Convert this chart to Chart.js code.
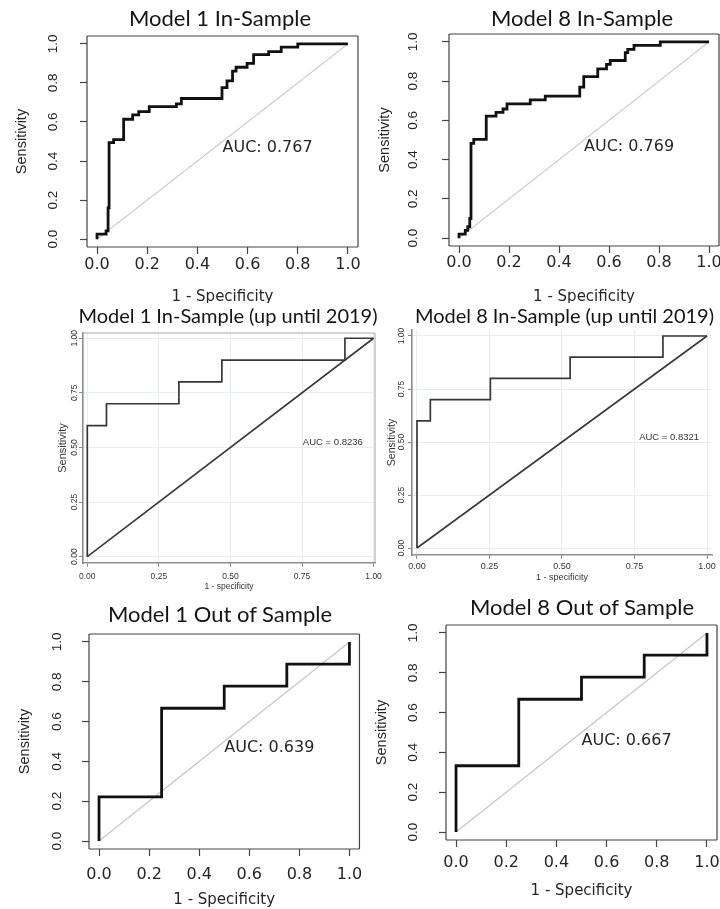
<!DOCTYPE html>
<html>
<head>
<meta charset="utf-8">
<title>ROC curves - Model 1 / Model 8</title>
<script src="https://cdn.jsdelivr.net/npm/chart.js@4.4.1/dist/chart.umd.min.js"></script>
<style>
  html, body { margin: 0; padding: 0; background: #fff; overflow: hidden; }
  #page { position: relative; width: 720px; height: 909px; overflow: hidden; background: #fff; }
  .panel { position: absolute; }
  .panel canvas { display: block; }
  .ttl { position: absolute; width: 500px; text-align: center; white-space: nowrap;
         font-family: Lato, 'Open Sans', sans-serif; color: #151515; line-height: 1; }
</style>
</head>
<body>
<div id="page"></div>
<script>
// === Data ===
const TITLES = [
  "Model 1 In-Sample", "Model 8 In-Sample",
  "Model 1 In-Sample (up until 2019)", "Model 8 In-Sample (up until 2019)",
  "Model 1 Out of Sample", "Model 8 Out of Sample"
];
const AUC_LABELS = ["AUC: 0.767", "AUC: 0.769", "AUC = 0.8236", "AUC = 0.8321", "AUC: 0.639", "AUC: 0.667"];

const R_TICKS = [0, 0.2, 0.4, 0.6, 0.8, 1.0];
const R_TICK_LABELS = ["0.0", "0.2", "0.4", "0.6", "0.8", "1.0"];
const STATA_TICKS = [0, 0.25, 0.5, 0.75, 1.0];
const STATA_TICK_LABELS = ["0.00", "0.25", "0.50", "0.75", "1.00"];

const X_TITLE_R = "1 - Specificity";
const X_TITLE_STATA = "1 - specificity";
const Y_TITLE = "Sensitivity";

// ROC points (1 - specificity, sensitivity); drawn as step-after lines
const M1_IN_FPR = [0, 0.036, 0.044, 0.048, 0.066, 0.106, 0.142, 0.166, 0.208, 0.316, 0.336, 0.498, 0.518, 0.540, 0.554, 0.598, 0.624, 0.684, 0.734, 0.800, 1.000];
const M1_IN_TPR = [0, 0.026, 0.043, 0.160, 0.494, 0.510, 0.614, 0.636, 0.653, 0.679, 0.693, 0.720, 0.776, 0.810, 0.860, 0.880, 0.900, 0.945, 0.960, 0.983, 1.000];

const M8_IN_FPR = [0, 0.025, 0.035, 0.043, 0.048, 0.059, 0.109, 0.148, 0.176, 0.192, 0.285, 0.345, 0.483, 0.499, 0.555, 0.590, 0.605, 0.665, 0.675, 0.700, 0.805, 1.000];
const M8_IN_TPR = [0, 0.020, 0.040, 0.058, 0.100, 0.483, 0.503, 0.622, 0.641, 0.658, 0.684, 0.704, 0.724, 0.769, 0.823, 0.862, 0.885, 0.905, 0.945, 0.962, 0.982, 1.000];

const M1_2019_FPR = [0, 0.067, 0.320, 0.470, 0.900, 1.0];
const M1_2019_TPR = [0, 0.600, 0.700, 0.800, 0.900, 1.0];
const M8_2019_FPR = [0, 0.046, 0.253, 0.528, 0.848, 1.0];
const M8_2019_TPR = [0, 0.600, 0.700, 0.800, 0.900, 1.0];

const M1_OUT_FPR = [0, 0.25, 0.50, 0.75, 1.0, 1.0];
const M1_OUT_TPR = [0, 0.222, 0.667, 0.778, 0.889, 1.0];
const M8_OUT_FPR = [0, 0.25, 0.50, 0.75, 1.0, 1.0];
const M8_OUT_TPR = [0, 0.333, 0.667, 0.778, 0.889, 1.0];

const DIAG_X = [0, 1];
const DIAG_Y = [0, 1];

// === Looks: R (pROC) panels and Stata (roctab) panels ===
const R_LOOK = {
  text: "#262626",
  xFamily: "'DejaVu Sans', Verdana, sans-serif", xTickSize: 16, xTitleSize: 15,
  yFamily: "'Liberation Sans', Arial, sans-serif", yTickSize: 13.5, yTitleSize: 14.5,
  aucSize: 16, aucFamily: "'DejaVu Sans', Verdana, sans-serif",
  tickLen: 7, tickColor: "#444", tickWidth: 1.2,
  grid: false, gridColor: "rgba(0,0,0,0)",
  axisLine: false, axisColor: "#444", axisWidth: 1.2,
  frame: "tlrb", frameColor: "#444", frameWidth: 1.2,
  curve: "#111", curveWidth: 2.8, diag: "#c4c4c4", diagWidth: 1.1
};
const STATA_LOOK = {
  text: "#333",
  xFamily: "'Liberation Sans', Arial, sans-serif", xTickSize: 9, xTitleSize: 9,
  yFamily: "'Liberation Sans', Arial, sans-serif", yTickSize: 8.5, yTitleSize: 10.5,
  aucSize: 9.5, aucFamily: "'Liberation Sans', Arial, sans-serif",
  tickLen: 4, tickColor: "#8c8c8c", tickWidth: 1,
  grid: true, gridColor: "#e6eeee",
  axisLine: true, axisColor: "#8c8c8c", axisWidth: 1.6,
  frame: "", frameColor: "#a8a8a8", frameWidth: 1,
  curve: "#383838", curveWidth: 1.7, diag: "#383838", diagWidth: 1.6
};

// canvas: [x, y, w, h] of the canvas on the page; area: [left, right, top, bottom] of the plot box
const PANELS = [
  { title: TITLES[0], tx: 220, ty: 18, ts: 22, look: R_LOOK,
    canvas: [0, 0, 372, 303], area: [87, 358, 36, 247], xr: [-0.04, 1.04], yr: [-0.04, 1.04],
    ticks: R_TICKS, labels: R_TICK_LABELS, xTitle: X_TITLE_R,
    yTickX: 53, xTickY: 265, yTitleX: 22, xTitleY: 297.5,
    fpr: M1_IN_FPR, tpr: M1_IN_TPR, auc: AUC_LABELS[0], aucAt: [0.5, 0.465] },
  { title: TITLES[1], tx: 582, ty: 18, ts: 22, look: R_LOOK,
    canvas: [362, 0, 370, 303], area: [449, 719, 34, 246], xr: [-0.04, 1.04], yr: [-0.04, 1.04],
    ticks: R_TICKS, labels: R_TICK_LABELS, xTitle: X_TITLE_R,
    yTickX: 413, xTickY: 263, yTitleX: 385, xTitleY: 297.5,
    fpr: M8_IN_FPR, tpr: M8_IN_TPR, auc: AUC_LABELS[1], aucAt: [0.5, 0.464] },
  { title: TITLES[2], tx: 228, ty: 315, ts: 20, look: Object.assign({}, STATA_LOOK, { frame: "tr", xTickSize: 8.5, xTitleSize: 8.5, yTitleSize: 11 }),
    canvas: [0, 318, 390, 277], area: [83, 375, 333, 563], xr: [-0.015, 1.005], yr: [-0.029, 1.024],
    ticks: STATA_TICKS, labels: STATA_TICK_LABELS, xTitle: X_TITLE_STATA,
    yTickX: 75, xTickY: 577, yTitleX: 63, xTitleY: 587,
    fpr: M1_2019_FPR, tpr: M1_2019_TPR, auc: AUC_LABELS[2], aucAt: [0.753, 0.525] },
  { title: TITLES[3], tx: 564.5, ty: 315, ts: 20, look: STATA_LOOK,
    canvas: [380, 318, 345, 277], area: [412, 712, 330, 555], xr: [-0.0172, 1.0172], yr: [-0.033, 1.0283],
    ticks: STATA_TICKS, labels: STATA_TICK_LABELS, xTitle: X_TITLE_STATA,
    yTickX: 402, xTickY: 567, yTitleX: 392, xTitleY: 578,
    fpr: M8_2019_FPR, tpr: M8_2019_TPR, auc: AUC_LABELS[3], aucAt: [0.766, 0.524] },
  { title: TITLES[4], tx: 220, ty: 614, ts: 22, look: R_LOOK,
    canvas: [0, 600, 372, 309], area: [89, 360, 634, 849], xr: [-0.04, 1.04], yr: [-0.04, 1.04],
    ticks: R_TICKS, labels: R_TICK_LABELS, xTitle: X_TITLE_R,
    yTickX: 57, xTickY: 875, yTitleX: 25, xTitleY: 900,
    fpr: M1_OUT_FPR, tpr: M1_OUT_TPR, auc: AUC_LABELS[4], aucAt: [0.5, 0.467] },
  { title: TITLES[5], tx: 582, ty: 607, ts: 22, look: R_LOOK,
    canvas: [364, 592, 368, 317], area: [446, 717, 625, 840], xr: [-0.04, 1.04], yr: [-0.04, 1.04],
    ticks: R_TICKS, labels: R_TICK_LABELS, xTitle: X_TITLE_R,
    yTickX: 413, xTickY: 863, yTitleX: 382, xTitleY: 891,
    fpr: M8_OUT_FPR, tpr: M8_OUT_TPR, auc: AUC_LABELS[5], aucAt: [0.5, 0.46] }
];

// === Small plugins: plot frame and AUC label ===
const framePlugin = {
  id: "frame",
  afterDatasetsDraw(chart, args, o) {
    if (!o.sides) return;
    const { ctx, chartArea: a } = chart;
    ctx.save();
    ctx.strokeStyle = o.color;
    ctx.lineWidth = o.width;
    ctx.beginPath();
    if (o.sides.includes("t")) { ctx.moveTo(a.left, a.top); ctx.lineTo(a.right, a.top); }
    if (o.sides.includes("r")) { ctx.moveTo(a.right, a.top); ctx.lineTo(a.right, a.bottom); }
    if (o.sides.includes("b")) { ctx.moveTo(a.left, a.bottom); ctx.lineTo(a.right, a.bottom); }
    if (o.sides.includes("l")) { ctx.moveTo(a.left, a.top); ctx.lineTo(a.left, a.bottom); }
    ctx.stroke();
    ctx.restore();
  }
};

const aucPlugin = {
  id: "aucText",
  afterDatasetsDraw(chart, args, o) {
    const { ctx, scales } = chart;
    ctx.save();
    ctx.font = o.size + "px " + o.family;
    ctx.fillStyle = o.color;
    ctx.textAlign = "left";
    ctx.textBaseline = "middle";
    ctx.fillText(o.text, scales.x.getPixelForValue(o.at[0]), scales.y.getPixelForValue(o.at[1]));
    ctx.restore();
  }
};

const measureCtx = document.createElement("canvas").getContext("2d");
function textWidth(str, size, family){
  measureCtx.font = size + "px " + family;
  return measureCtx.measureText(str).width;
}

const page = document.getElementById("page");

function buildPanel(p){
  const L = p.look;
  const [cx, cy, cw, ch] = p.canvas;
  const [al, ar, at, ab] = p.area;

  const wrap = document.createElement("div");
  wrap.className = "panel";
  wrap.style.cssText = `left:${cx}px;top:${cy}px;width:${cw}px;height:${ch}px`;
  const canvas = document.createElement("canvas");
  wrap.appendChild(canvas);
  page.appendChild(wrap);

  const t = document.createElement("div");
  t.className = "ttl";
  t.textContent = p.title;
  t.style.cssText = `left:${p.tx - 250}px;top:${p.ty - p.ts / 2}px;font-size:${p.ts}px`;
  page.appendChild(t);

  // rotated y labels are centred on x = right - tick - padding - widest/2
  const widest = Math.max.apply(null, p.labels.map(s => textWidth(s, L.yTickSize, L.yFamily)));
  const yTickPad = al - L.tickLen - widest / 2 - p.yTickX;
  const xTickPad = p.xTickY - ab - L.tickLen - L.xTickSize * 0.6;
  const yTitlePad = p.yTitleX - cx - L.yTitleSize * 0.6;
  const xTitlePad = cy + ch - p.xTitleY - L.xTitleSize * 0.6;
  const fixTicks = sc => { sc.ticks = p.ticks.map(v => ({ value: v })); };
  const grid = {
    display: true, drawOnChartArea: L.grid, color: L.gridColor, lineWidth: 1,
    tickColor: L.tickColor, tickLength: L.tickLen, tickWidth: L.tickWidth
  };

  return new Chart(canvas, {
    type: "line",
    data: {
      datasets: [
        { data: p.fpr.map((v, i) => ({ x: v, y: p.tpr[i] })), stepped: "after",
          borderColor: L.curve, borderWidth: L.curveWidth, pointRadius: 0, fill: false },
        { data: DIAG_X.map((v, i) => ({ x: v, y: DIAG_Y[i] })),
          borderColor: L.diag, borderWidth: L.diagWidth, pointRadius: 0, fill: false }
      ]
    },
    options: {
      responsive: true, maintainAspectRatio: false, animation: false, events: [],
      layout: { padding: { left: 0, bottom: 0, top: at - cy, right: cx + cw - ar } },
      plugins: {
        legend: { display: false }, tooltip: { enabled: false }, title: { display: false },
        frame: { sides: L.frame, color: L.frameColor, width: L.frameWidth },
        aucText: { text: p.auc, at: p.aucAt, size: L.aucSize, family: L.aucFamily, color: L.text }
      },
      scales: {
        x: {
          type: "linear", min: p.xr[0], max: p.xr[1],
          afterBuildTicks: fixTicks,
          afterFit: sc => { sc.height = cy + ch - ab; },
          ticks: { callback: (v, i) => p.labels[i], autoSkip: false, minRotation: 0, maxRotation: 0,
                   padding: xTickPad, color: L.text, font: { family: L.xFamily, size: L.xTickSize } },
          grid: grid,
          border: { display: L.axisLine, color: L.axisColor, width: L.axisWidth },
          title: { display: true, text: p.xTitle, color: L.text,
                   font: { family: L.xFamily, size: L.xTitleSize }, padding: { top: 0, bottom: xTitlePad } }
        },
        y: {
          type: "linear", min: p.yr[0], max: p.yr[1],
          afterBuildTicks: fixTicks,
          afterFit: sc => { sc.width = al - cx; },
          ticks: { callback: (v, i) => p.labels[i], autoSkip: false, minRotation: 90, maxRotation: 90,
                   crossAlign: "center", padding: yTickPad, color: L.text,
                   font: { family: L.yFamily, size: L.yTickSize } },
          grid: grid,
          border: { display: L.axisLine, color: L.axisColor, width: L.axisWidth },
          title: { display: true, text: Y_TITLE, color: L.text,
                   font: { family: L.yFamily, size: L.yTitleSize }, padding: { top: yTitlePad, bottom: 0 } }
        }
      }
    },
    plugins: [framePlugin, aucPlugin]
  });
}

PANELS.forEach(buildPanel);
</script>
</body>
</html>
